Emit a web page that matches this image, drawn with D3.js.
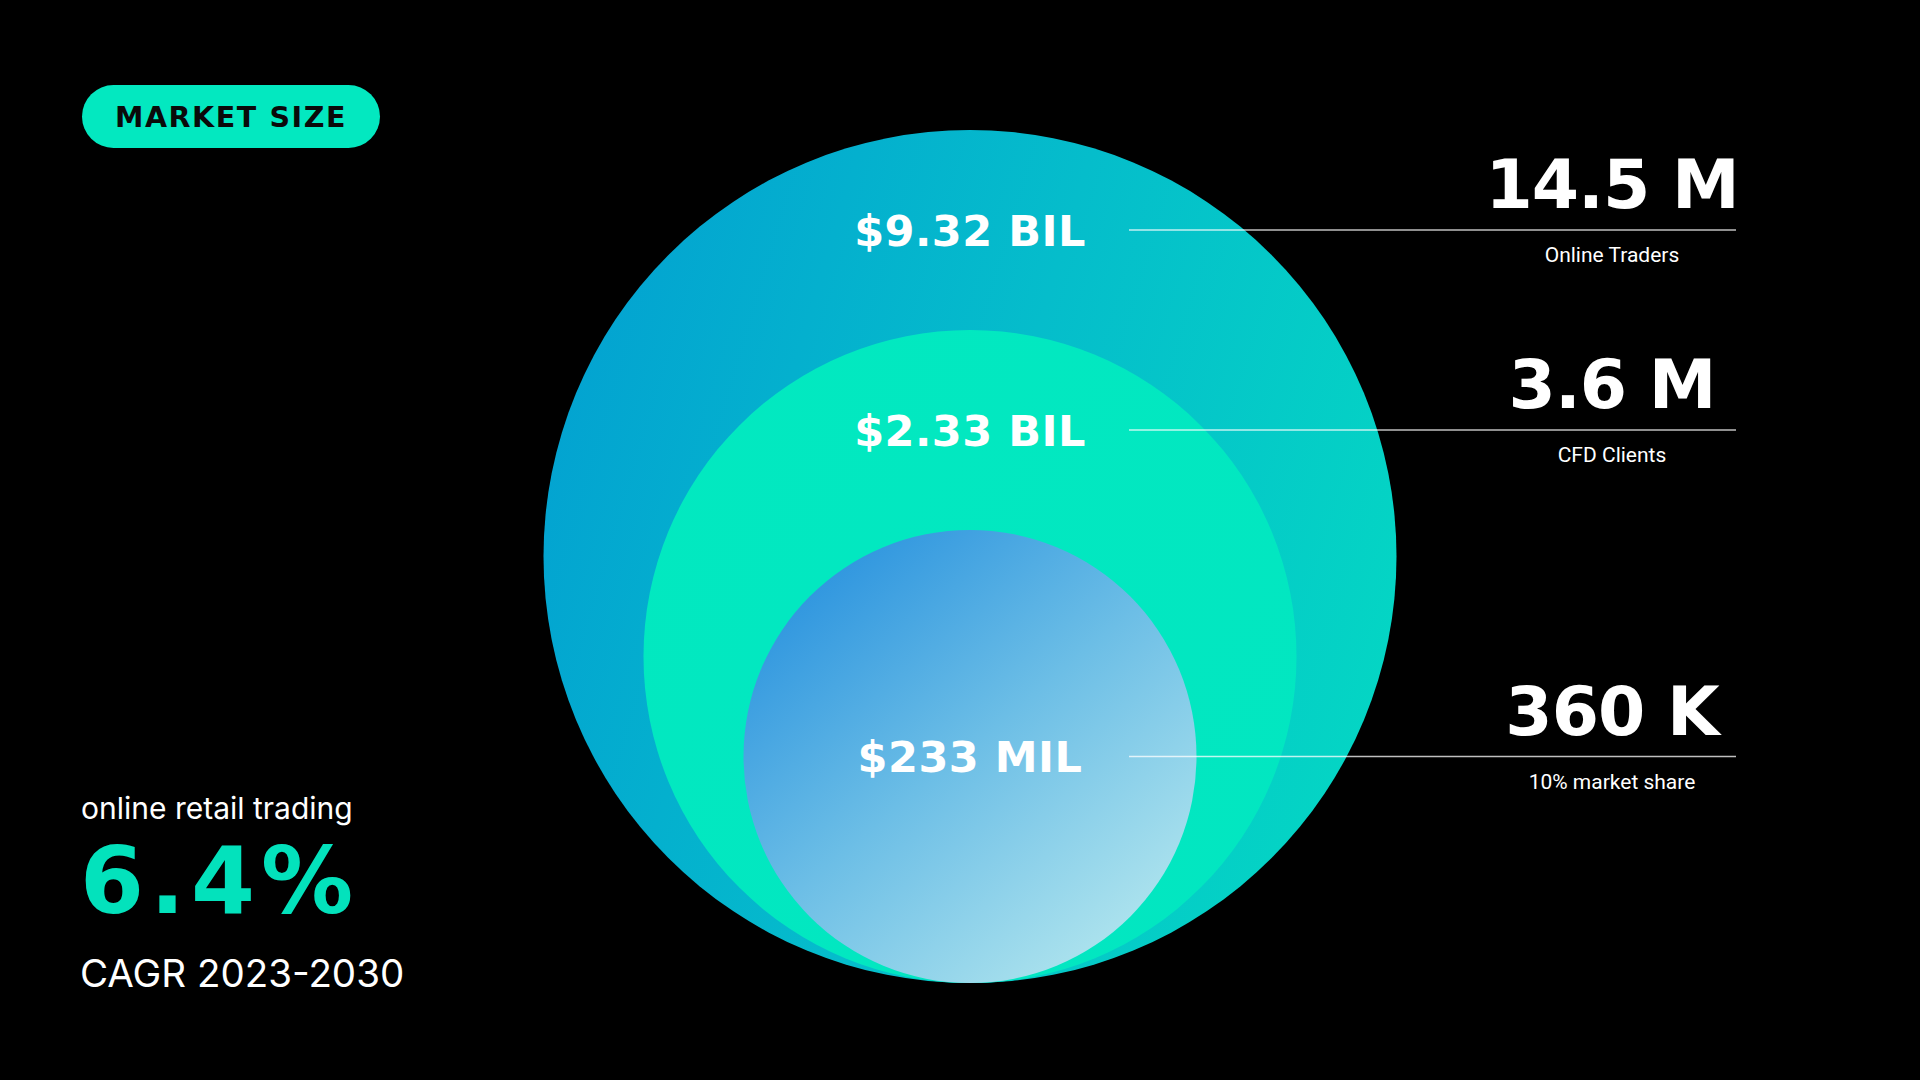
<!DOCTYPE html>
<html>
<head>
<meta charset="utf-8">
<script src="https://cdn.jsdelivr.net/npm/d3@7"></script>
<style>
  html, body { margin: 0; padding: 0; background: #000; }
  svg { display: block; }
</style>
</head>
<body>
<svg id="chart" width="1920" height="1080"></svg>
<script>
// ---- Data ----
const tiers = ["Online Traders", "CFD Clients", "10% market share"];
const marketSizeUSD = [9.32e9, 2.33e9, 233e6];
const userCounts = [14.5e6, 3.6e6, 360e3];
const badgeLabel = "MARKET SIZE";
const cagrLabel = "online retail trading";
const cagrValue = 6.4;
const cagrPeriod = "CAGR 2023-2030";

// ---- Formatting ----
function fmtMoney(v) {
  if (v >= 1e9) return "$" + d3.format(".2f")(v / 1e9) + " BIL";
  return "$" + d3.format("d")(v / 1e6) + " MIL";
}
function fmtCount(v) {
  if (v >= 1e6) return d3.format(".3~r")(v / 1e6) + " M";
  return d3.format("d")(v / 1e3) + " K";
}

// ---- Layout ----
const W = 1920, H = 1080;
const cx = 970, baseY = 983;
const svg = d3.select("#chart");
svg.append("rect").attr("width", W).attr("height", H).attr("fill", "#000");

const idx = tiers.map((d, i) => i);
const rScale = d3.scaleLinear().domain([0, tiers.length - 1]).range([426.5, 226.5]);

const defs = svg.append("defs");
const g0 = defs.append("linearGradient").attr("id", "gOuter")
  .attr("x1", "0").attr("y1", "0.35").attr("x2", "1").attr("y2", "0.65");
g0.append("stop").attr("offset", "0").attr("stop-color", "#03A3D1");
g0.append("stop").attr("offset", "0.5").attr("stop-color", "#05BDCB");
g0.append("stop").attr("offset", "1").attr("stop-color", "#04D6C4");
const g1 = defs.append("linearGradient").attr("id", "gMid")
  .attr("x1", "0").attr("y1", "0").attr("x2", "1").attr("y2", "1");
g1.append("stop").attr("offset", "0").attr("stop-color", "#02E9C0");
g1.append("stop").attr("offset", "1").attr("stop-color", "#02E6C1");
const g2 = defs.append("linearGradient").attr("id", "gInner")
  .attr("x1", "0.1").attr("y1", "0.05").attr("x2", "0.85").attr("y2", "0.95");
g2.append("stop").attr("offset", "0").attr("stop-color", "#2690DE");
g2.append("stop").attr("offset", "0.5").attr("stop-color", "#6CBEE6");
g2.append("stop").attr("offset", "1").attr("stop-color", "#B2E6EE");
const fills = ["url(#gOuter)", "url(#gMid)", "url(#gInner)"];

const cy = i => baseY - rScale(i);
const lineY = i => i < tiers.length - 1 ? cy(i) - rScale(i) + 100 : cy(i);

svg.append("g").selectAll("circle").data(idx).join("circle")
  .attr("cx", cx).attr("cy", d => cy(d)).attr("r", d => rScale(d))
  .attr("fill", d => fills[d]);

// connector lines
const lineX0 = 1129, lineX1 = 1736, rightCx = 1612;
svg.append("g").selectAll("line").data(idx).join("line")
  .attr("x1", lineX0).attr("x2", lineX1)
  .attr("y1", d => lineY(d)).attr("y2", d => lineY(d))
  .attr("stroke", "#ffffff").attr("stroke-opacity", 0.75).attr("stroke-width", 1.5);

// circle labels
svg.append("g").selectAll("text").data(idx).join("text")
  .attr("x", cx).attr("y", d => lineY(d) + 15.5)
  .attr("text-anchor", "middle")
  .attr("font-family", "DejaVu Sans")
  .attr("font-weight", 700).attr("font-size", 43)
  .attr("letter-spacing", 0.5)
  .attr("fill", "#fff")
  .text(d => fmtMoney(marketSizeUSD[d]));

// right big numbers
svg.append("g").selectAll("text").data(idx).join("text")
  .attr("x", rightCx).attr("y", d => lineY(d) - 22)
  .attr("text-anchor", "middle")
  .attr("font-family", "DejaVu Sans")
  .attr("font-weight", 700).attr("font-size", 68)
  .attr("letter-spacing", -1)
  .attr("fill", "#fff")
  .text(d => fmtCount(userCounts[d]));

// right captions
svg.append("g").selectAll("text").data(idx).join("text")
  .attr("x", rightCx).attr("y", d => lineY(d) + 32)
  .attr("text-anchor", "middle")
  .attr("font-family", "Roboto")
  .attr("font-size", 21)
  .attr("fill", "#fff")
  .text(d => tiers[d]);

// badge
const badge = svg.append("g");
badge.append("rect").attr("x", 82).attr("y", 85).attr("width", 298).attr("height", 63)
  .attr("rx", 31.5).attr("fill", "#03E8C0");
badge.append("text").attr("x", 231).attr("y", 127)
  .attr("text-anchor", "middle")
  .attr("font-family", "DejaVu Sans").attr("font-weight", 700)
  .attr("font-size", 28.5).attr("letter-spacing", 1.6)
  .attr("fill", "#0a0a0a").text(badgeLabel);

// CAGR block
svg.append("text").attr("x", 81).attr("y", 819)
  .attr("font-family", "Inter").attr("font-size", 30)
  .attr("fill", "#fff").text(cagrLabel);
svg.append("text").attr("x", 80).attr("y", 913)
  .attr("font-family", "DejaVu Sans").attr("font-weight", 700)
  .attr("font-size", 92).attr("letter-spacing", 6)
  .attr("fill", "#03E2BC").text(d3.format(".1f")(cagrValue) + "%");
svg.append("text").attr("x", 80).attr("y", 987)
  .attr("font-family", "Inter").attr("font-size", 38.5)
  .attr("fill", "#fff").text(cagrPeriod);
</script>
</body>
</html>
